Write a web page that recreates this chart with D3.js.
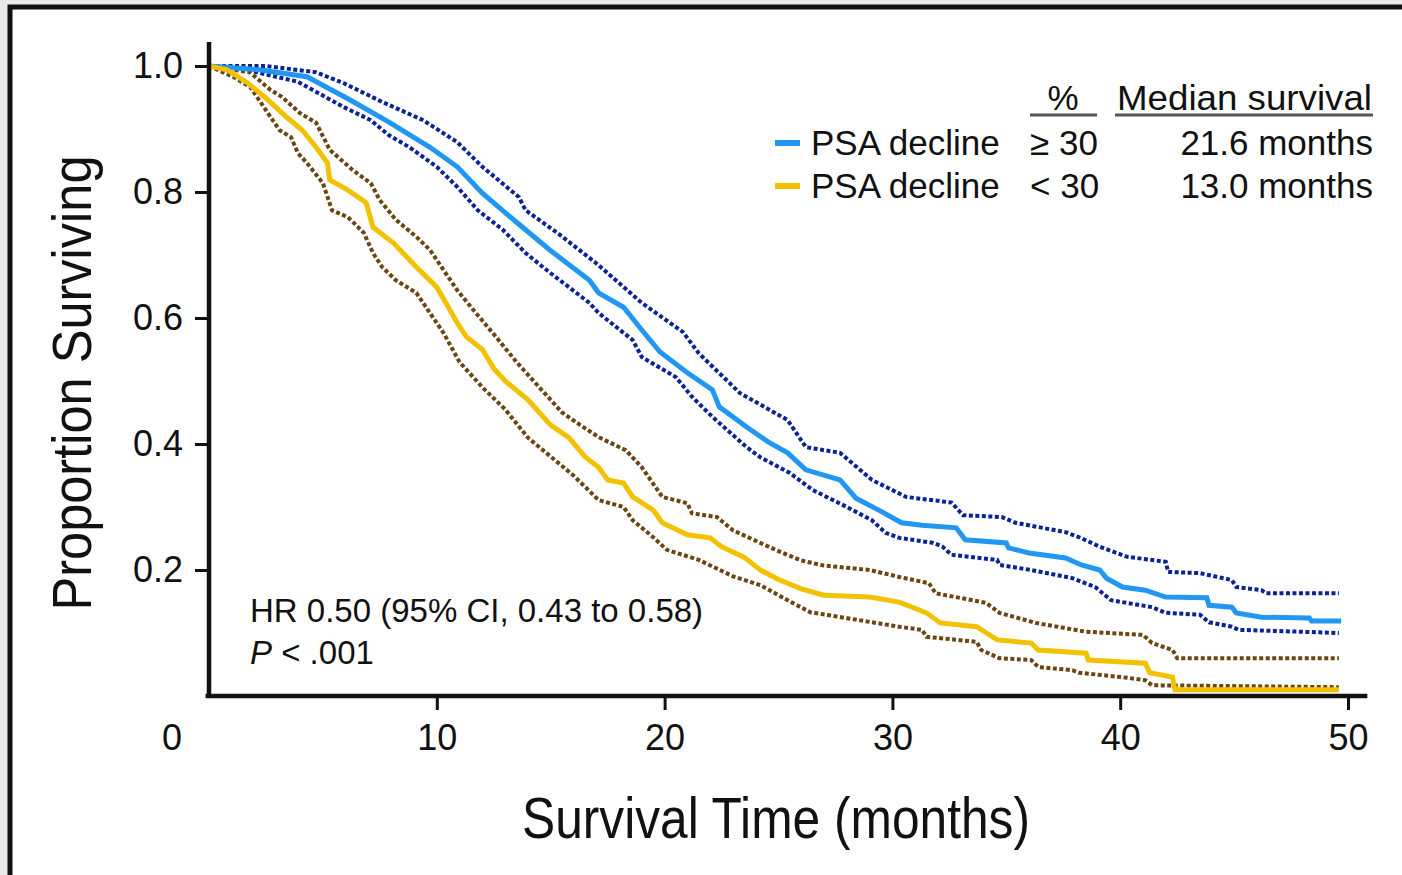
<!DOCTYPE html>
<html>
<head>
<meta charset="utf-8">
<script src="https://cdn.jsdelivr.net/npm/d3@7"></script>
<style>
  html, body { margin: 0; padding: 0; background: #e9e9e9; }
  svg { display: block; font-family: "Liberation Sans", Arial, sans-serif; }
  .axis text { font-size: 36px; fill: #111; }
  .axis line { stroke: #111; stroke-width: 3px; }
</style>
</head>
<body>
<div id="chart"></div>
<script>
// Kaplan-Meier estimates: [months, proportion surviving]
const declineHighMain = [[0,1],[2.2,.994],[4.3,.983],[6.2,.946],[7.9,.911],[9.7,.871],[10.9,.84],[12.0,.798],[13.5,.752],[14.96,.708],[16.7,.66],[17.1,.64],[18.2,.617],[19.0,.581],[19.8,.546],[21.0,.513],[22.1,.486],[22.4,.459],[23.6,.427],[24.6,.402],[25.4,.386],[26.2,.359],[27.7,.343],[28.4,.314],[29.4,.295],[30.4,.275],[31.3,.271],[32.8,.267],[33.2,.248],[35.0,.243],[35.1,.235],[36.0,.227],[37.6,.219],[38.3,.208],[39.1,.2],[39.4,.187],[40.1,.173],[41.1,.168],[42.0,.157],[43.8,.156],[43.9,.144],[44.9,.141],[45.1,.132],[46.2,.125],[48.3,.124],[48.4,.119],[49.7,.119]];
const declineHighUpper = [[0,1],[2.5,1],[4.7,.99],[5.9,.973],[7.6,.943],[9.4,.914],[10.9,.879],[12.0,.84],[13.6,.792],[13.9,.771],[15.3,.735],[17.0,.687],[19.0,.624],[20.8,.578],[21.5,.544],[23.3,.481],[25.4,.438],[26.2,.395],[27.7,.386],[29.1,.343],[30.6,.316],[32.6,.307],[33.1,.287],[34.8,.284],[35.4,.275],[37.6,.26],[38.2,.252],[39.1,.237],[40.3,.221],[42.0,.213],[42.1,.197],[43.5,.195],[44.9,.184],[45.1,.173],[46.2,.168],[46.4,.163],[49.6,.163]];
const declineHighLower = [[0,1],[1.5,.995],[3.9,.975],[5.9,.935],[7.1,.914],[7.9,.89],[8.8,.871],[10.0,.84],[10.9,.808],[11.8,.771],[12.9,.74],[13.9,.703],[15.0,.671],[16.7,.624],[17.1,.608],[18.6,.565],[19.0,.538],[20.5,.506],[21.2,.475],[22.1,.443],[23.6,.395],[24.2,.379],[25.5,.354],[26.5,.327],[28.0,.3],[29.1,.279],[29.7,.259],[30.3,.251],[31.8,.243],[32.2,.237],[32.6,.224],[34.6,.216],[34.7,.208],[36.1,.2],[37.9,.187],[38.9,.173],[39.6,.152],[41.4,.141],[42.0,.132],[43.5,.129],[43.9,.117],[44.9,.11],[45.2,.105],[47.9,.102],[49.6,.1]];

const declineLowMain = [[0,1],[0.8,.994],[1.7,.973],[2.5,.949],[3.4,.919],[4.1,.898],[4.7,.871],[5.2,.846],[5.3,.819],[6.1,.803],[6.9,.783],[7.2,.744],[8.1,.719],[9.1,.681],[10.0,.649],[10.4,.624],[10.9,.592],[11.3,.57],[12.0,.55],[12.5,.52],[13.0,.5],[14.0,.47],[14.5,.45],[15.0,.43],[15.8,.41],[16.5,.38],[17.1,.363],[17.5,.343],[18.2,.338],[18.6,.316],[19.5,.295],[19.9,.275],[21.0,.256],[22.0,.251],[22.5,.237],[23.5,.22],[24.2,.2],[25.0,.185],[26.0,.17],[27.0,.16],[29.0,.157],[30.3,.149],[31.5,.132],[32.1,.116],[33.7,.11],[34.6,.089],[36.1,.084],[36.4,.073],[38.5,.068],[38.6,.057],[41.1,.052],[41.3,.037],[42.3,.03],[42.4,.01],[49.6,.01]];
const declineLowUpper = [[0,1],[1.8,.99],[2.7,.962],[3.2,.951],[4.0,.925],[4.7,.91],[5.3,.867],[6.3,.835],[7.1,.814],[7.5,.787],[8.2,.756],[9.1,.729],[9.7,.708],[10.3,.676],[10.9,.644],[11.6,.613],[12.6,.57],[13.5,.53],[14.5,.49],[15.5,.45],[16.3,.43],[17.1,.411],[18.3,.39],[19.0,.363],[19.9,.316],[21.0,.306],[21.2,.29],[22.3,.284],[23.0,.263],[24.2,.243],[25.0,.23],[26.0,.215],[27.0,.207],[29.0,.2],[30.3,.189],[31.6,.179],[31.9,.163],[34.1,.148],[34.7,.132],[36.3,.116],[38.5,.102],[41.0,.097],[41.4,.084],[42.3,.073],[42.5,.06],[49.6,.06]];
const declineLowLower = [[0,1],[1.05,.983],[1.8,.967],[2.2,.946],[2.7,.919],[3.1,.898],[3.6,.887],[3.9,.862],[4.3,.846],[5.0,.814],[5.4,.771],[6.1,.76],[6.8,.735],[7.2,.703],[7.6,.681],[8.2,.66],[9.1,.64],[9.7,.608],[10.3,.576],[11.0,.53],[12.0,.49],[13.0,.455],[14.0,.41],[15.0,.38],[16.0,.35],[17.1,.311],[18.2,.3],[18.6,.279],[19.5,.252],[20.1,.232],[21.5,.216],[23.0,.19],[24.2,.176],[25.5,.15],[26.4,.133],[28.6,.12],[30.3,.11],[31.3,.105],[31.5,.094],[33.7,.086],[33.9,.073],[34.7,.06],[36.1,.057],[36.4,.046],[37.9,.041],[38.2,.037],[40.3,.029],[41.1,.025],[41.4,.017],[49.6,.014]];

const xTicks = [10, 20, 30, 40, 50];
const yTicks = [0.2, 0.4, 0.6, 0.8, 1.0];

const legendRows = [
  { label: "PSA decline", pct: "\u2265 30", median: "21.6 months", color: "#2196f3" },
  { label: "PSA decline", pct: "< 30", median: "13.0 months", color: "#f2c200" },
];

const width = 1402;
const height = 875;

const svg = d3.select("#chart")
  .append("svg")
  .attr("width", width)
  .attr("height", height);

// white panel with the heavy frame
svg.append("rect")
  .attr("x", 10).attr("y", 7)
  .attr("width", 1420).attr("height", 900)
  .attr("fill", "#fff")
  .attr("stroke", "#111")
  .attr("stroke-width", 5);

const x = d3.scaleLinear().domain([0, 50]).range([209, 1348]);
const y = d3.scaleLinear().domain([0, 1]).range([696, 66]);

const line = d3.line()
  .x(d => x(d[0]))
  .y(d => y(d[1]))
  .curve(d3.curveLinear);

const curves = [
  { data: declineHighUpper, color: "#0b2396", dotted: true },
  { data: declineHighLower, color: "#0b2396", dotted: true },
  { data: declineLowUpper, color: "#6b4512", dotted: true },
  { data: declineLowLower, color: "#6b4512", dotted: true },
  { data: declineHighMain, color: "#2196f3", dotted: false },
  { data: declineLowMain, color: "#f2c200", dotted: false },
];

svg.append("g")
  .selectAll("path")
  .data(curves)
  .join("path")
  .attr("d", d => line(d.data))
  .attr("fill", "none")
  .attr("stroke", d => d.color)
  .attr("stroke-width", d => d.dotted ? 4 : 5)
  .attr("stroke-dasharray", d => d.dotted ? "4,2.5" : null)
  .attr("stroke-linejoin", "miter");

// axes
const yAxis = svg.append("g")
  .attr("class", "axis")
  .attr("transform", `translate(${x(0)},0)`)
  .call(d3.axisLeft(y).tickValues(yTicks).tickFormat(d3.format(".1f")).tickSize(14).tickPadding(12));
yAxis.select(".domain").remove();
yAxis.selectAll("text").attr("font-size", 37);

const xAxis = svg.append("g")
  .attr("class", "axis")
  .attr("transform", `translate(0,${y(0)})`)
  .call(d3.axisBottom(x).tickValues(xTicks).tickSize(14).tickPadding(14));
xAxis.select(".domain").remove();

// the "0" label sits out at the corner
svg.append("text")
  .attr("x", x(0) - 37)
  .attr("y", y(0) + 14 + 14)
  .attr("dy", "0.71em")
  .attr("text-anchor", "middle")
  .attr("font-size", 36)
  .attr("fill", "#111")
  .text("0");

svg.append("line")
  .attr("x1", x(0)).attr("x2", x(0))
  .attr("y1", y(1.038)).attr("y2", y(0) + 1)
  .attr("stroke", "#111").attr("stroke-width", 4.5);
svg.append("line")
  .attr("x1", x(-0.15)).attr("x2", x(50.85))
  .attr("y1", y(0)).attr("y2", y(0))
  .attr("stroke", "#111").attr("stroke-width", 4.5);

// axis titles
svg.append("text")
  .attr("x", 776).attr("y", 838)
  .attr("text-anchor", "middle")
  .attr("font-size", 58)
  .attr("textLength", 508)
  .attr("lengthAdjust", "spacingAndGlyphs")
  .attr("fill", "#111")
  .text("Survival Time (months)");

svg.append("text")
  .attr("transform", "translate(91,383) rotate(-90)")
  .attr("text-anchor", "middle")
  .attr("font-size", 55)
  .attr("textLength", 455)
  .attr("lengthAdjust", "spacingAndGlyphs")
  .attr("fill", "#111")
  .text("Proportion Surviving");

// legend
const legend = svg.append("g").attr("font-size", 35).attr("fill", "#111");
legend.append("text").attr("x", 1063).attr("y", 110).attr("text-anchor", "middle").text("%");
legend.append("text").attr("x", 1117).attr("y", 110)
  .attr("textLength", 255).attr("lengthAdjust", "spacingAndGlyphs")
  .text("Median survival");
legend.append("line").attr("x1", 1030).attr("x2", 1097).attr("y1", 115).attr("y2", 115)
  .attr("stroke", "#555").attr("stroke-width", 3);
legend.append("line").attr("x1", 1115).attr("x2", 1373).attr("y1", 115).attr("y2", 115)
  .attr("stroke", "#555").attr("stroke-width", 3);

const rows = legend.selectAll("g.row")
  .data(legendRows)
  .join("g")
  .attr("class", "row")
  .attr("transform", (d, i) => `translate(0,${143 + i * 43})`);
rows.append("line")
  .attr("x1", 775).attr("x2", 800)
  .attr("stroke", d => d.color).attr("stroke-width", 6);
rows.append("text").attr("x", 811).attr("y", 12).text(d => d.label);
rows.append("text").attr("x", 1030).attr("y", 12).text(d => d.pct);
rows.append("text").attr("x", 1373).attr("y", 12).attr("text-anchor", "end").text(d => d.median);

// hazard ratio note
const note = svg.append("g").attr("font-size", 33).attr("fill", "#111");
note.append("text").attr("x", 250).attr("y", 622).text("HR 0.50 (95% CI, 0.43 to 0.58)");
const pLine = note.append("text").attr("x", 250).attr("y", 664);
pLine.append("tspan").attr("font-style", "italic").text("P");
pLine.append("tspan").text(" < .001");
</script>
</body>
</html>
